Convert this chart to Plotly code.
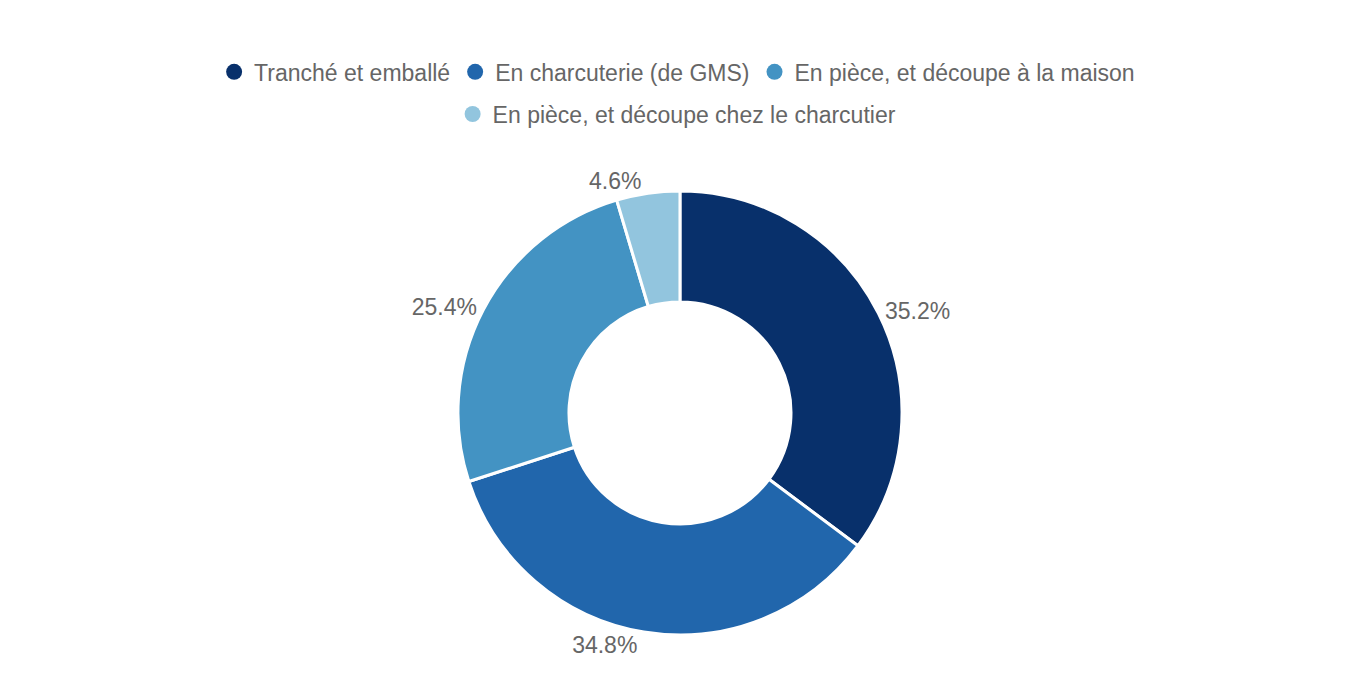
import plotly.graph_objects as go

labels = [
    "Tranché et emballé",
    "En charcuterie (de GMS)",
    "En pièce, et découpe à la maison",
    "En pièce, et découpe chez le charcutier",
]
values = [35.2, 34.8, 25.4, 4.6]
colors = ["#08306b", "#2166ac", "#4393c3", "#92c5de"]
# which legend row each entry sits on
legend_rows = ["legend", "legend", "legend", "legend2"]

font_family = "Liberation Sans, Arial, Helvetica, sans-serif"
text_grey = "#666666"

fig = go.Figure()

# the page body adds an 8px offset, so the donut is placed slightly up/left
fig.add_trace(go.Pie(
    labels=labels,
    values=values,
    hole=0.5,
    sort=False,
    direction="clockwise",
    rotation=0,
    marker=dict(colors=colors, line=dict(color="white", width=3)),
    textposition="outside",
    texttemplate="%{percent:.1%}",
    textfont=dict(size=23, color=text_grey, family=font_family),
    showlegend=False,
    domain=dict(x=[0, 0.9882], y=[0.078, 0.731]),
))

# legend entries with round markers (pie legends only draw squares)
for name, col, lg in zip(labels, colors, legend_rows):
    fig.add_trace(go.Scatter(
        x=[None], y=[None], mode="markers", name=name, legend=lg,
        marker=dict(color=col, size=28, symbol="circle"),
    ))

legend_style = dict(
    orientation="h",
    x=0.492, xanchor="center",
    yanchor="middle",
    font=dict(size=23, color=text_grey, family=font_family),
    itemsizing="trace",
    bgcolor="rgba(0,0,0,0)",
)

fig.update_layout(
    width=1360,
    height=680,
    margin=dict(l=0, r=0, t=0, b=0, autoexpand=False),
    paper_bgcolor="white",
    plot_bgcolor="white",
    font=dict(family=font_family, color=text_grey, size=23),
    xaxis=dict(visible=False),
    yaxis=dict(visible=False),
    legend=dict(y=0.906, **legend_style),
    legend2=dict(y=0.844, **legend_style),
)

fig.write_html("out.html")
